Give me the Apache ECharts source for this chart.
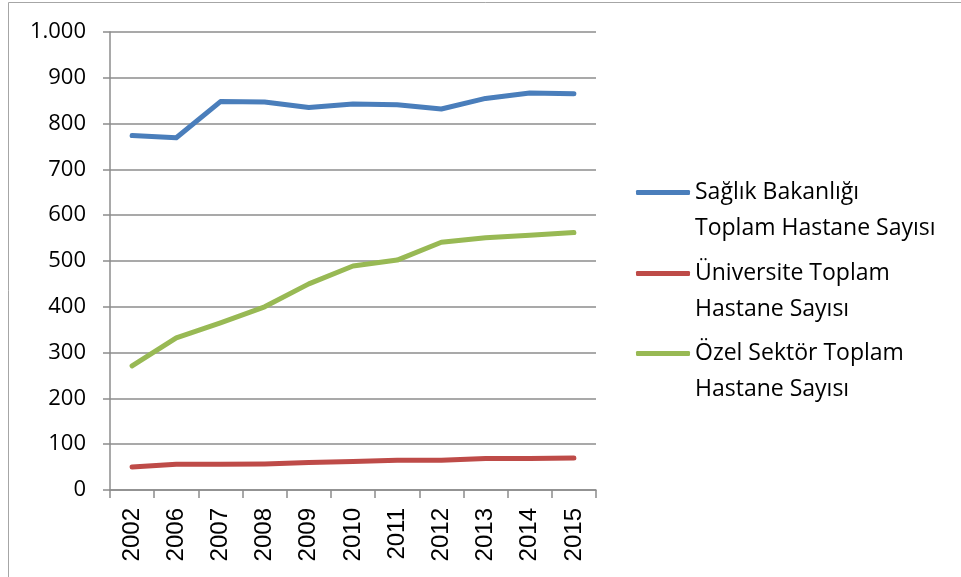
<!DOCTYPE html>
<html lang="tr">
<head>
<meta charset="UTF-8">
<title>Hastane Sayısı</title>
<script type="text/javascript" src="https://cdn.jsdelivr.net/npm/echarts@6/dist/echarts.min.js"></script>
<style type="text/css">
	html, body { margin:0; padding:0; background:#fff; }
	#chart { width:961px; height:577px; }
</style>
</head>
<body>
<div id="chart"></div>
<script type="text/javascript">
	// yıllar
	var years = ['2002','2006','2007','2008','2009','2010','2011','2012','2013','2014','2015'];
	var saglikBakanligi = [774, 769, 848, 847, 835, 843, 841, 832, 855, 867, 865];
	var universite = [50, 56, 56, 57, 60, 62, 65, 65, 69, 69, 70];
	var ozelSektor = [271, 332, 365, 400, 450, 489, 502, 541, 551, 556, 562];
	var seriesNames = ['Sağlık Bakanlığı Toplam Hastane Sayısı', 'Üniversite Toplam Hastane Sayısı', 'Özel Sektör Toplam Hastane Sayısı'];
	var legendLines = [['Sağlık Bakanlığı', 'Toplam Hastane Sayısı'], ['Üniversite Toplam', 'Hastane Sayısı'], ['Özel Sektör Toplam', 'Hastane Sayısı']];
	var colors = ['#4A7EBB', '#BE4B48', '#98B954'];

	var gridColor = '#8c8c8c';
	var font = 'Open Sans';

	// ilk satır çizgiyle aynı hizada olsun diye başa boş satır
	function makeLegend(i, top){
		return {
			data: [seriesNames[i]],
			left: 636,
			top: top,
			padding: 0,
			icon: 'roundRect',
			itemWidth: 54,
			itemHeight: 5,
			itemGap: 0,
			formatter: function(){
				return '{e| }\n{t|' + legendLines[i][0] + '}\n{t|' + legendLines[i][1] + '}';
			},
			textStyle: {
				fontFamily: font,
				fontSize: 23,
				color: '#000',
				padding: [0, 0, 0, 0],
				rich: {
					e: { fontFamily: font, fontSize: 23, lineHeight: 36, color: '#000' },
					t: { fontFamily: font, fontSize: 23, lineHeight: 36, color: '#000' }
				}
			}
		};
	}

	var chart = echarts.init(document.getElementById('chart'));
	var option = {
		animation: false,
		color: colors,
		graphic: [{
			type: 'rect',
			shape: { x: 8.5, y: 2.5, width: 1000, height: 700 },
			style: { fill: 'none', stroke: '#a6a6a6', lineWidth: 1 }
		}],
		legend: [makeLegend(0, 145), makeLegend(1, 226), makeLegend(2, 306)],
		grid: { left: 110, right: 365, top: 32, bottom: 87 },
		xAxis: {
			type: 'category',
			data: years,
			boundaryGap: true,
			axisLine: { lineStyle: { color: gridColor, width: 1.5 } },
			axisTick: { show: true, length: 8, inside: false, lineStyle: { color: gridColor, width: 1.5 } },
			axisLabel: { rotate: 90, fontFamily: 'Liberation Sans', fontSize: 24, color: '#000', margin: 18 }
		},
		yAxis: {
			type: 'value',
			min: 0,
			max: 1000,
			interval: 100,
			axisLine: { show: true, lineStyle: { color: gridColor, width: 1.5 } },
			axisTick: { show: true, length: 7, lineStyle: { color: gridColor, width: 1.5 } },
			splitLine: { lineStyle: { color: gridColor, width: 1.5 } },
			axisLabel: {
				fontFamily: font,
				fontSize: 22,
				color: '#000',
				margin: 24,
				formatter: function(v){ return v === 1000 ? '1.000' : String(v); }
			}
		},
		series: [
			{ name: seriesNames[0], type: 'line', data: saglikBakanligi, symbol: 'none', lineStyle: { width: 5, cap: 'round', join: 'round' } },
			{ name: seriesNames[1], type: 'line', data: universite, symbol: 'none', lineStyle: { width: 5, cap: 'round', join: 'round' } },
			{ name: seriesNames[2], type: 'line', data: ozelSektor, symbol: 'none', lineStyle: { width: 5, cap: 'round', join: 'round' } }
		]
	};
	chart.setOption(option, true);
</script>
</body>
</html>
